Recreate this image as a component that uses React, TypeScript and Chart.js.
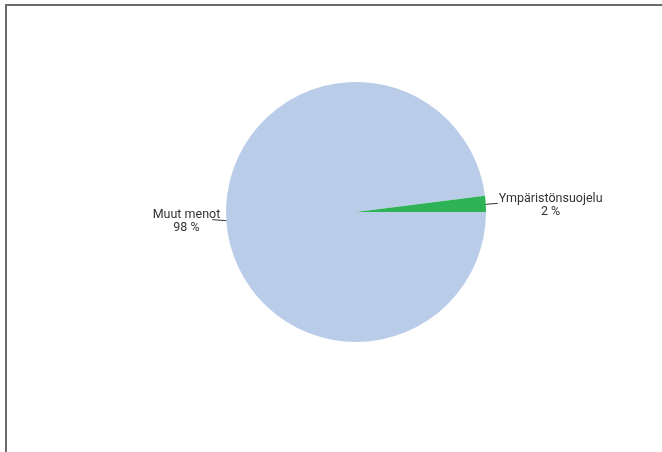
import React, { useEffect, useRef } from "react";
import { Chart, registerables } from "chart.js";

Chart.register(...registerables);

const categories: string[] = ["Muut menot", "Ympäristönsuojelu"];
const values: number[] = [98, 2];
const valueLabels: string[] = ["98 %", "2 %"];
const colors: string[] = ["#B9CDE9", "#2DB255"];

const FONT = "12.5px Roboto, 'Noto Sans', sans-serif";

const labelPlugin = {
  id: "leaderLabels",
  afterDatasetsDraw(chart: any) {
    const ctx = chart.ctx as CanvasRenderingContext2D;
    const meta = chart.getDatasetMeta(0);
    ctx.save();
    ctx.font = FONT;
    meta.data.forEach((arc: any, i: number) => {
      const { x, y, startAngle, endAngle, outerRadius } = arc.getProps(
        ["x", "y", "startAngle", "endAngle", "outerRadius"],
        true
      );
      const mid = (startAngle + endAngle) / 2;
      const ex = x + Math.cos(mid) * outerRadius;
      const ey = y + Math.sin(mid) * outerRadius;
      const right = Math.cos(mid) >= 0;
      const lx = right ? ex + 12 : ex - 14;
      const ly = ey - 1;
      ctx.strokeStyle = "#333";
      ctx.lineWidth = 1;
      ctx.beginPath();
      ctx.moveTo(ex, ey + 0.5);
      ctx.lineTo(lx, ly + 0.5);
      ctx.stroke();
      const lines = [categories[i], valueLabels[i]];
      const w = Math.max(...lines.map((l) => ctx.measureText(l).width));
      const left = right ? lx + 1 : lx + 8 - w;
      const cx = left + w / 2;
      ctx.fillStyle = "#333";
      ctx.textAlign = "center";
      ctx.textBaseline = "alphabetic";
      lines.forEach((l, k) => {
        ctx.fillText(l, cx, ly - 1 + k * 13);
      });
    });
    ctx.restore();
  },
};

export default function App() {
  const ref = useRef<HTMLCanvasElement | null>(null);
  useEffect(() => {
    if (!ref.current) return;
    const chart = new Chart(ref.current, {
      type: "pie",
      data: {
        labels: categories,
        datasets: [
          {
            data: values,
            backgroundColor: colors,
            borderWidth: 0,
          },
        ],
      },
      options: {
        animation: false,
        responsive: false,
        rotation: 90,
        layout: { padding: { left: 226, right: 176, top: 82, bottom: 110 } },
        plugins: {
          legend: { display: false },
          tooltip: { enabled: false },
        },
      },
      plugins: [labelPlugin],
    });
    return () => chart.destroy();
  }, []);
  return (
    <div style={{ position: "fixed", left: 0, top: 0, width: 662, height: 452, background: "#fff", overflow: "hidden" }}>
      <div
        style={{
          position: "absolute",
          left: 5,
          top: 4,
          width: 720,
          height: 520,
          borderTop: "2px solid #6a6a6a",
          borderLeft: "2px solid #6a6a6a",
        }}
      />
      <canvas ref={ref} width={662} height={452} style={{ position: "absolute", left: 0, top: 0, width: 662, height: 452 }} />
    </div>
  );
}
